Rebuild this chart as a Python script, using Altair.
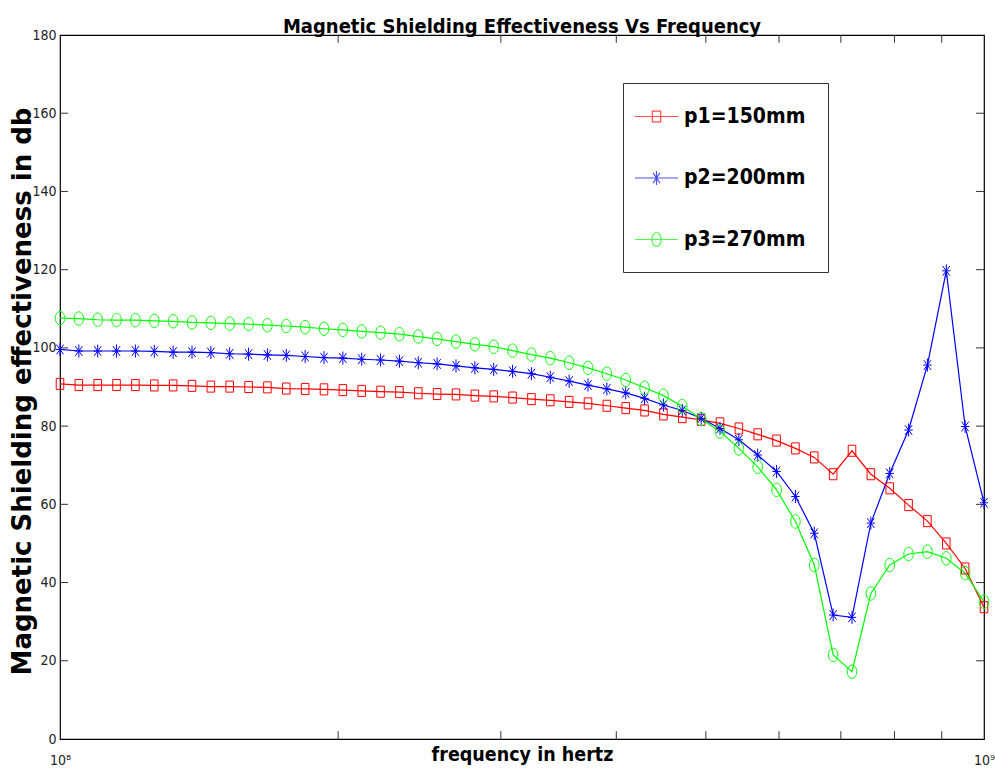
import altair as alt
import pandas as pd

# ---------------- data ----------------
freq_mhz = [100.0, 104.81, 109.85, 115.13, 120.67, 126.48, 132.57, 138.95, 145.63, 152.64,
            159.99, 167.68, 175.75, 184.21, 193.07, 202.36, 212.09, 222.30, 232.99, 244.21,
            255.95, 268.27, 281.18, 294.71, 308.88, 323.75, 339.32, 355.65, 372.76, 390.69,
            409.49, 429.19, 449.84, 471.49, 494.17, 517.95, 542.87, 568.99, 596.36, 625.06,
            655.13, 686.65, 719.69, 754.31, 790.60, 828.64, 868.51, 910.30, 954.09, 1000.0]

se_p1 = [90.8, 90.5, 90.5, 90.5, 90.5, 90.4, 90.4, 90.3, 90.1, 90.1,
         90.0, 89.9, 89.6, 89.5, 89.4, 89.2, 89.0, 88.8, 88.7, 88.4,
         88.2, 88.1, 87.8, 87.6, 87.3, 86.9, 86.6, 86.2, 85.8, 85.2,
         84.6, 84.0, 83.0, 82.3, 81.6, 80.7, 79.4, 77.9, 76.3, 74.3,
         72.0, 67.7, 73.7, 67.7, 64.1, 59.8, 55.7, 50.0, 43.6, 33.7]

se_p2 = [99.6, 99.2, 99.2, 99.2, 99.2, 99.1, 98.9, 98.9, 98.8, 98.5,
         98.4, 98.2, 98.1, 97.8, 97.5, 97.4, 97.1, 96.9, 96.6, 96.2,
         95.9, 95.4, 94.9, 94.5, 94.0, 93.4, 92.5, 91.5, 90.5, 89.5,
         88.5, 87.1, 85.4, 84.0, 82.0, 79.4, 76.5, 72.6, 68.4, 62.0,
         52.6, 31.7, 31.1, 55.2, 67.9, 79.0, 95.6, 119.7, 79.9, 60.4]

se_p3 = [107.6, 107.5, 107.2, 107.1, 107.1, 106.9, 106.8, 106.5, 106.4, 106.2,
         106.1, 105.8, 105.6, 105.3, 104.9, 104.6, 104.2, 103.9, 103.5, 102.9,
         102.3, 101.6, 100.9, 100.3, 99.3, 98.3, 97.4, 96.2, 94.9, 93.4,
         91.8, 89.8, 87.8, 85.1, 81.8, 78.6, 74.3, 69.6, 63.7, 55.6,
         44.5, 21.5, 17.2, 37.2, 44.5, 47.3, 47.9, 46.2, 42.4, 35.1]

series_names = ["p1=150mm", "p2=200mm", "p3=270mm"]
series_colors = ["#ff0000", "#0000ff", "#00ff00"]

y_tick_values = [0, 20, 40, 60, 80, 100, 120, 140, 160, 180]
y_inner_ticks = [20, 40, 60, 80, 100, 120, 140, 160]
x_label_values = [1e8, 1e9]
x_minor_mhz = [200, 300, 400, 500, 600, 700, 800, 900]

# ---------------- tables ----------------
rows = []
for name, vals in zip(series_names, [se_p1, se_p2, se_p3]):
    for f, v in zip(freq_mhz, vals):
        rows.append({"freq": f * 1e6, "se": v, "series": name, "name": name})
df = pd.DataFrame(rows)
xt = pd.DataFrame({"f": [m * 1e6 for m in x_minor_mhz]})
yt = pd.DataFrame({"v": y_inner_ticks})

NARROW = "Liberation Sans Narrow, Arial Narrow, DejaVu Sans Condensed, sans-serif"
WIDE = "DejaVu Sans, Liberation Sans, sans-serif"


def ellipse(rx, ry, k=0.5523):
    return (f"M{rx},0C{rx},{k*ry:.3f} {k*rx:.3f},{ry} 0,{ry}"
            f"C{-k*rx:.3f},{ry} {-rx},{k*ry:.3f} {-rx},0"
            f"C{-rx},{-k*ry:.3f} {-k*rx:.3f},{-ry} 0,{-ry}"
            f"C{k*rx:.3f},{-ry} {rx},{-k*ry:.3f} {rx},0Z")


def square(hx, hy):
    return f"M{-hx},{-hy}L{hx},{-hy}L{hx},{hy}L{-hx},{hy}Z"


def asterisk(hx, hy):
    dx, dy = hx * 0.85, hy * 0.75
    return (f"M0,{-hy}L0,{hy}M{-hx},0L{hx},0"
            f"M{-dx},{-dy}L{dx},{dy}M{-dx},{dy}L{dx},{-dy}")


marker_shapes = [square(0.54, 0.79), asterisk(0.6, 0.93), ellipse(0.68, 0.96)]
seg = "M-2,0L2,0"
legend_shapes = [seg + square(0.39, 0.5), seg + asterisk(0.38, 0.65), seg + ellipse(0.43, 0.65)]

xscale = alt.Scale(type="log", domain=[1e8, 1e9], nice=False)
yscale = alt.Scale(domain=[0, 180], nice=False)

x_axis = alt.Axis(values=x_label_values,
                  labelExpr="datum.value < 5e8 ? '10⁸' : '10⁹'",
                  ticks=False, domain=False, grid=False,
                  labelFont=NARROW, labelFontSize=14, labelColor="#222222",
                  labelPadding=14, labelFlush=False,
                  title="frequency in hertz", titleFont=NARROW, titleFontSize=19.5,
                  titleFontWeight="bold", titleColor="black",
                  titleY=6, titleBaseline="top")
y_axis = alt.Axis(values=y_tick_values, ticks=False, domain=False, grid=False,
                  labelFont=NARROW, labelFontSize=14, labelColor="#222222",
                  labelPadding=4,
                  title="Magnetic Shielding effectiveness in db", titleFont=WIDE,
                  titleFontSize=26, titleFontWeight="bold", titleColor="black",
                  titleX=-38, titleY=356, titleAlign="center", titleBaseline="middle",
                  titleAngle=-90)

X = lambda fld: alt.X(fld, scale=xscale, axis=x_axis)
Y = lambda fld: alt.Y(fld, scale=yscale, axis=y_axis)

base = alt.Chart(df)

lines = base.mark_line(strokeWidth=1.2, clip=False).encode(
    x=X("freq:Q"), y=Y("se:Q"),
    color=alt.Color("series:N", scale=alt.Scale(domain=series_names, range=series_colors), legend=None),
    detail="series:N",
)

points = base.mark_point(filled=False, size=196, strokeWidth=1, opacity=1, clip=False).encode(
    x=X("freq:Q"), y=Y("se:Q"),
    color=alt.Color("series:N", scale=alt.Scale(domain=series_names, range=series_colors), legend=None),
    shape=alt.Shape("series:N", scale=alt.Scale(domain=series_names, range=marker_shapes), legend=None),
)

leg = alt.Legend(orient="none", legendX=563, legendY=48, title=None,
                 fillColor="white", strokeColor="#333333", padding=22,
                 symbolSize=462, symbolStrokeWidth=1.2, symbolFillColor="transparent",
                 labelFont=NARROW, labelFontSize=21, labelFontWeight="bold",
                 labelColor="black", labelOffset=16, rowPadding=39.5, labelLimit=300)

legend_layer = base.mark_point(filled=False, size=462, strokeWidth=1.2).encode(
    x=X("freq:Q"), y=Y("se:Q"),
    color=alt.Color("name:N", scale=alt.Scale(domain=series_names, range=series_colors), legend=leg),
    shape=alt.Shape("name:N", scale=alt.Scale(domain=series_names, range=legend_shapes), legend=leg),
).transform_filter("false")

tick_style = dict(color="#333333", strokeWidth=1)
tb = alt.Chart(xt).mark_rule(**tick_style).encode(
    x=X("f:Q"), y=alt.Y(datum=0, scale=yscale, axis=y_axis), y2=alt.Y2(datum=2.0))
tt = alt.Chart(xt).mark_rule(**tick_style).encode(
    x=X("f:Q"), y=alt.Y(datum=180, scale=yscale, axis=y_axis), y2=alt.Y2(datum=178.0))
tl = alt.Chart(yt).mark_rule(**tick_style).encode(
    y=Y("v:Q"), x=alt.X(datum=1e8, scale=xscale, axis=x_axis), x2=alt.X2(datum=1.0201e8))
tr = alt.Chart(yt).mark_rule(**tick_style).encode(
    y=Y("v:Q"), x=alt.X(datum=1e9, scale=xscale, axis=x_axis), x2=alt.X2(datum=0.9803e9))

chart = alt.layer(lines, points, legend_layer, tb, tt, tl, tr).resolve_scale(
    color="independent", shape="independent"
).properties(
    width=924, height=704,
    autosize=alt.AutoSizeParams(type="none"),
    padding={"left": 60, "top": 35, "right": 11, "bottom": 41},
    title=alt.TitleParams("Magnetic Shielding Effectiveness Vs Frequency", font=NARROW,
                          fontSize=20, fontWeight="bold", anchor="middle", offset=-25,
                          baseline="alphabetic", frame="group", color="black"),
    background="white",
).configure_view(stroke="#000000", strokeWidth=1.2)

chart.save("out.html", embed_options={"renderer": "svg", "actions": False})
